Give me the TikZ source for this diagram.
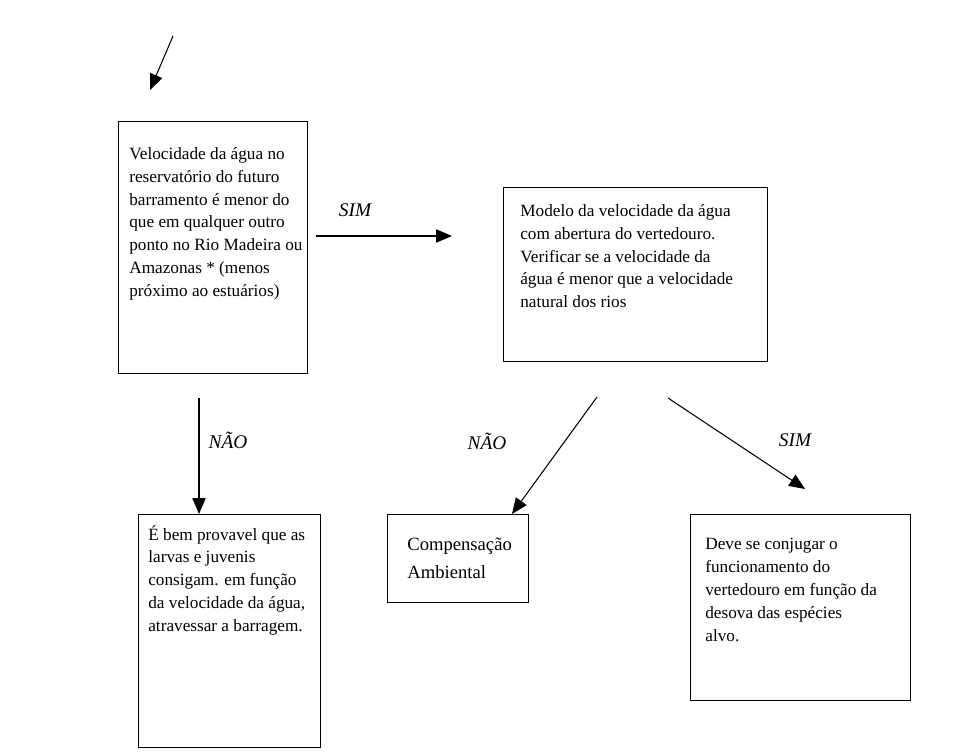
\documentclass[tikz,border=0pt]{standalone}
\usepackage{fontspec}
\setmainfont{Liberation Serif}
\usetikzlibrary{arrows.meta,calc,positioning}

\tikzset{
  caixa/.style={draw, line width=0.8pt, rectangle, inner sep=0pt, anchor=north west},
  texto/.style={anchor=north west, inner sep=0pt, align=left, font=\fontsize{9.8}{13}\selectfont},
  rotulo/.style={font=\itshape\fontsize{11}{13}\selectfont},
  seta/.style={line width=0.6pt, -{Triangle[length=9pt,width=7.5pt]}}
}

\begin{document}
\begin{tikzpicture}[x=0.02cm,y=-0.02cm]
\useasboundingbox (0,0) rectangle (975,753);
% caixas
\node[caixa, minimum width=3.78cm, minimum height=5.04cm] (caixaA) at (118,121) {};
\node[caixa, minimum width=5.28cm, minimum height=3.48cm] (caixaB) at (503,187) {};
\node[caixa, minimum width=3.64cm, minimum height=4.66cm] (caixaC) at (138,514) {};
\node[caixa, minimum width=2.82cm, minimum height=1.76cm] (caixaD) at (387,514) {};
\node[caixa, minimum width=4.40cm, minimum height=3.72cm] (caixaE) at (690,514) {};
% textos
\node[texto] (tA) at ($(caixaA.north west)+(11,26)$) {Velocidade da água no\\reservatório do futuro\\barramento é menor do\\que em qualquer outro\\ponto no Rio Madeira ou\\Amazonas * (menos\\próximo ao estuários)};
\node[texto] (tB) at ($(caixaB.north west)+(17,17)$) {Modelo da velocidade da água\\com abertura do vertedouro.\\Verificar se a velocidade da\\água é menor que a velocidade\\natural dos rios};
\node[texto] (tC) at ($(caixaC.north west)+(10,11)$) {É bem provavel que as\\larvas e juvenis\\consigam. em função\\da velocidade da água,\\atravessar a barragem.};
\node[texto, font=\fontsize{10.6}{15.5}\selectfont] (tD) at ($(caixaD.north west)+(20,24)$) {Compensação\\Ambiental};
\node[texto] (tE) at ($(caixaE.north west)+(15,24)$) {Deve se conjugar o\\funcionamento do\\vertedouro em função da\\desova das espécies\\alvo.};
% rotulos
\node[rotulo] (simA) at (355,210) {SIM};
\node[rotulo] (naoA) at (228,440) {NÃO};
\node[rotulo] (naoB) at (487,441) {NÃO};
\node[rotulo] (simB) at (795,440) {SIM};
% setas
\coordinate (p1) at (173,36);
\coordinate (p2) at (150,90);
\coordinate (s1) at (316,236);
\coordinate (s2) at (452,236);
\coordinate (n1) at (199,398);
\coordinate (n2) at (597,397);
\coordinate (m1) at (668,398);
\coordinate (m2) at (805,489);
\draw[seta] (p1) -- (p2);
\draw[seta] (s1) -- (s2);
\draw[seta] (n1) -- (n1 |- caixaC.north);
\draw[seta] (n2) -- ($(caixaD.north west)+(125,0)$);
\draw[seta] (m1) -- (m2);
\end{tikzpicture}
\end{document}
